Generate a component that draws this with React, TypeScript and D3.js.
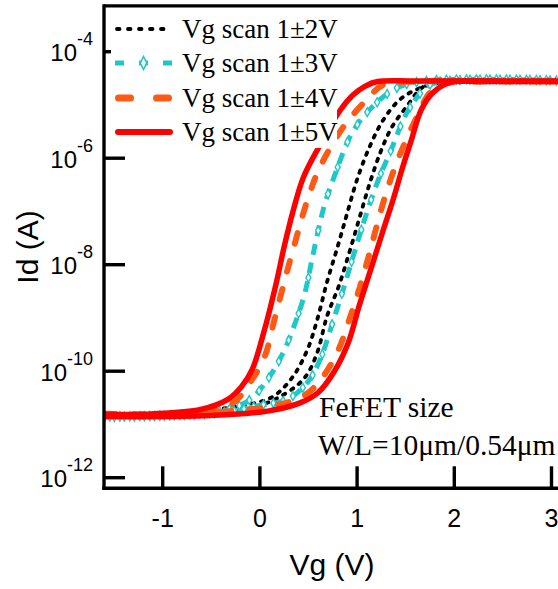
import React, { useEffect, useRef } from "react";
import * as d3 from "d3";

const W = 558;
const H = 589;

const xTicks = [-1, 0, 1, 2, 3];
const yTickExps = [-12, -10, -8, -6, -4];
const legendLabels = ["Vg scan 1±2V", "Vg scan 1±3V", "Vg scan 1±4V", "Vg scan 1±5V"];
const noteLines = ["FeFET size", "W/L=10μm/0.54μm"];

type Pt = [number, number]; // [Vg (V), Id (A)]

// Vg scan 1±2V
const scan2Fwd: Pt[] = [
  [-1.0, 1.45e-11], [-0.1, 2.0e-11], [0.28, 3.98e-11], [0.47, 7.94e-11], [0.59, 2.24e-10],
  [0.69, 1.07e-9], [0.81, 3.89e-9], [0.92, 1.7e-8], [1.02, 7.08e-8], [1.12, 2.95e-7],
  [1.24, 1.29e-6], [1.36, 3.89e-6], [1.51, 9.33e-6], [1.68, 2.19e-5], [1.9, 2.69e-5],
  [2.3, 2.75e-5], [3.0, 2.75e-5],
];
const scan2Rev: Pt[] = [
  [3.0, 2.75e-5], [1.9, 2.69e-5], [1.65, 2.09e-5], [1.44, 1.26e-5], [1.27, 5.25e-6],
  [1.13, 1.66e-6], [1.0, 3.98e-7], [0.9, 9.55e-8], [0.8, 2.19e-8], [0.69, 4.68e-9],
  [0.59, 9.33e-10], [0.49, 2.57e-10], [0.34, 7.94e-11], [0.14, 3.39e-11], [-0.1, 2.4e-11],
  [-1.0, 1.51e-11],
];

// Vg scan 1±3V
const scan3Fwd: Pt[] = [
  [-1.6, 1.38e-11], [-0.4, 1.66e-11], [0.0, 2.29e-11], [0.28, 2.95e-11], [0.49, 6.17e-11],
  [0.62, 1.66e-10], [0.75, 8.32e-10], [0.88, 4.68e-9], [0.99, 2.19e-8], [1.1, 9.55e-8],
  [1.22, 3.98e-7], [1.34, 1.29e-6], [1.53, 8.13e-6], [1.75, 2.4e-5], [2.0, 2.88e-5],
  [3.05, 2.88e-5],
];
const scan3Rev: Pt[] = [
  [3.05, 2.88e-5], [1.7, 2.82e-5], [1.41, 2.09e-5], [1.16, 9.33e-6], [0.95, 3.02e-6],
  [0.78, 5.37e-7], [0.66, 1.23e-7], [0.55, 1.66e-8], [0.46, 2.82e-9], [0.35, 6.92e-10],
  [0.24, 2.24e-10], [0.1, 7.94e-11], [-0.1, 2.95e-11], [-0.4, 1.78e-11], [-1.6, 1.41e-11],
];

// Vg scan 1±4V
const scan4Fwd: Pt[] = [
  [-1.6, 1.58e-11], [-0.6, 1.62e-11], [0.21, 2.4e-11], [0.47, 3.63e-11], [0.65, 7.94e-11],
  [0.81, 2.57e-10], [0.92, 9.33e-10], [1.03, 3.89e-9], [1.13, 1.7e-8], [1.22, 7.08e-8],
  [1.32, 2.95e-7], [1.45, 1.29e-6], [1.6, 5.25e-6], [1.75, 1.7e-5], [1.92, 2.63e-5],
  [2.3, 2.75e-5], [3.05, 2.75e-5],
];
const scan4Rev: Pt[] = [
  [3.05, 2.75e-5], [1.6, 2.75e-5], [1.27, 2.4e-5], [1.1, 1.26e-5], [0.86, 3.89e-6],
  [0.62, 6.92e-7], [0.49, 1.66e-7], [0.35, 2.19e-8], [0.25, 4.68e-9], [0.15, 9.33e-10],
  [0.05, 1.91e-10], [-0.1, 6.17e-11], [-0.27, 2.57e-11], [-0.51, 1.78e-11], [-1.1, 1.51e-11],
  [-1.6, 1.51e-11],
];

// Vg scan 1±5V
const scan5Fwd: Pt[] = [
  [-1.6, 1.41e-11], [-0.6, 1.45e-11], [0.08, 1.78e-11], [0.42, 2.57e-11], [0.6, 3.98e-11],
  [0.76, 9.55e-11], [0.91, 3.47e-10], [1.02, 1.66e-9], [1.13, 7.08e-9], [1.26, 3.98e-8],
  [1.37, 1.66e-7], [1.47, 6.92e-7], [1.56, 2.24e-6], [1.66, 8.13e-6], [1.78, 1.7e-5],
  [1.95, 2.63e-5], [2.3, 2.75e-5], [3.05, 2.75e-5],
];
const scan5Rev: Pt[] = [
  [3.05, 2.82e-5], [1.6, 2.82e-5], [1.21, 2.75e-5], [1.08, 2.24e-5], [0.96, 1.55e-5],
  [0.83, 8.13e-6], [0.61, 1.66e-6], [0.45, 4.47e-7], [0.34, 1.0e-7], [0.245, 2.0e-8],
  [0.17, 4.68e-9], [0.04, 5.37e-10], [-0.08, 1.07e-10], [-0.19, 5.13e-11], [-0.33, 2.95e-11],
  [-0.61, 1.91e-11], [-1.12, 1.58e-11], [-1.6, 1.55e-11],
];

const BLACK = "#000000";
const CYAN = "#1fc8c8";
const ORANGE = "#ff5a14";
const RED = "#ff0000";

const series = [
  { key: "s2", branches: [scan2Fwd, scan2Rev], color: BLACK, width: 3.8, dash: "2.5,7", cap: "round" },
  { key: "s3", branches: [scan3Fwd, scan3Rev], color: CYAN, width: 5, dash: "11,8", cap: "butt" },
  { key: "s4", branches: [scan4Fwd, scan4Rev], color: ORANGE, width: 6, dash: "11,18", cap: "round" },
  { key: "s5", branches: [scan5Fwd, scan5Rev], color: RED, width: 5.5, dash: "", cap: "round" },
];

const SANS = "'Liberation Sans', Arial, Helvetica, sans-serif";
const SERIF = "'Liberation Serif', 'Times New Roman', serif";

// marker spacing in gate voltage (data step of the measurement)
const MARKER_STEP_V = 0.1;

function diamond(cx: number, cy: number, hw: number, hh: number) {
  return `M${cx},${cy - hh}L${cx + hw},${cy}L${cx},${cy + hh}L${cx - hw},${cy}Z`;
}

export default function App() {
  const svgRef = useRef<SVGSVGElement>(null);

  const left = 104;
  const right = 558;
  const top = 5.8;
  const bottom = 488.3;

  const x = d3.scaleLinear().domain([-1, 3]).range([162.7, 551.5]);
  const y = d3.scaleLog().domain([1e-12, 1e-4]).range([477.7, 51.7]);

  const line = d3
    .line<Pt>()
    .x((d) => x(d[0]))
    .y((d) => y(d[1]))
    .curve(d3.curveCatmullRom.alpha(0.5));

  useEffect(() => {
    const svg = d3.select(svgRef.current);
    const g = svg.select<SVGGElement>("g.cyan-markers");
    g.selectAll("*").remove();
    const stepPx = Math.abs(x(MARKER_STEP_V) - x(0));
    svg.selectAll<SVGPathElement, unknown>("path.cyan-branch").each(function () {
      const p = this as SVGPathElement;
      const L = p.getTotalLength();
      let lastX: number | null = null;
      for (let s = 0; s <= L; s += 0.5) {
        const pt = p.getPointAtLength(s);
        if (lastX === null || Math.abs(pt.x - lastX) >= stepPx) {
          lastX = pt.x;
          g.append("path")
            .attr("d", diamond(pt.x, pt.y, 2.5, 4.5))
            .attr("fill", "#ffffff")
            .attr("stroke", CYAN)
            .attr("stroke-width", 1.4);
        }
      }
    });
    return () => {
      g.selectAll("*").remove();
    };
  }, []);

  const legendBase = [38, 72, 107, 141];

  return (
    <svg
      ref={svgRef}
      width={W}
      height={H}
      style={{ position: "absolute", left: 0, top: 0, display: "block", background: "#fff" }}
    >
      <defs>
        <clipPath id="plotClip">
          <rect x={left} y={top} width={right - left} height={bottom - top} />
        </clipPath>
      </defs>
      <rect x={0} y={0} width={W} height={H} fill="#fff" />

      <g clipPath="url(#plotClip)">
        {series.map((s) => (
          <g key={s.key}>
            {s.branches.map((b, i) => (
              <path
                key={i}
                className={s.key === "s3" ? "cyan-branch" : undefined}
                d={line(b) || ""}
                fill="none"
                stroke={s.color}
                strokeWidth={s.width}
                strokeDasharray={s.dash || undefined}
                strokeLinecap={s.cap as any}
                strokeLinejoin="round"
              />
            ))}
            {s.key === "s3" && <g className="cyan-markers" />}
          </g>
        ))}
      </g>

      {/* axes frame */}
      <line x1={left} x2={right} y1={top} y2={top} stroke="#000" strokeWidth={3.2} />
      <line x1={left} x2={left} y1={top - 1.6} y2={bottom + 1.6} stroke="#000" strokeWidth={3.4} />
      <line x1={left - 1.7} x2={right} y1={bottom} y2={bottom} stroke="#000" strokeWidth={3.4} />

      {/* y ticks */}
      {yTickExps.map((e) => {
        const yy = y(Math.pow(10, e));
        return (
          <g key={e}>
            <line x1={left} x2={left + 21} y1={yy} y2={yy} stroke="#000" strokeWidth={3.4} />
            <text x={93} y={yy + 9.5} textAnchor="end" fontFamily={SANS} fontSize={24} fill="#000">
              <tspan>10</tspan>
              <tspan dy={-16} fontSize={18}>{String(e)}</tspan>
            </text>
          </g>
        );
      })}

      {/* x ticks */}
      {xTicks.map((t) => (
        <g key={t}>
          <line x1={x(t)} x2={x(t)} y1={bottom} y2={bottom - 22} stroke="#000" strokeWidth={3.4} />
          <text x={x(t)} y={527} textAnchor="middle" fontFamily={SANS} fontSize={25} fill="#000">
            {String(t)}
          </text>
        </g>
      ))}

      {/* axis titles */}
      <text x={332} y={575} textAnchor="middle" fontFamily={SANS} fontSize={30} fill="#000">
        Vg (V)
      </text>
      <text
        transform="translate(38,247) rotate(-90)"
        textAnchor="middle"
        fontFamily={SANS}
        fontSize={30}
        fill="#000"
      >
        Id (A)
      </text>

      {/* legend */}
      <rect x={111} y={10} width={226} height={138} fill="#fff" />
      {legendLabels.map((lab, i) => {
        const by = legendBase[i];
        const sy = by - 9;
        return (
          <g key={lab}>
            {i === 0 && (
              <line x1={117} x2={172} y1={sy} y2={sy} stroke={BLACK} strokeWidth={3.8}
                strokeDasharray="2.5,8.5" strokeLinecap="round" />
            )}
            {i === 1 && (
              <g>
                <line x1={115} x2={172} y1={sy} y2={sy} stroke={CYAN} strokeWidth={5}
                  strokeDasharray="9,39,9" />
                <line x1={139} x2={148} y1={sy} y2={sy} stroke={CYAN} strokeWidth={5} />
                <path d={diamond(143.5, sy, 3.2, 6.5)} fill="#fff" stroke={CYAN} strokeWidth={1.6} />
              </g>
            )}
            {i === 2 && (
              <line x1={118.5} x2={168.5} y1={sy} y2={sy} stroke={ORANGE} strokeWidth={7}
                strokeDasharray="12,26" strokeLinecap="round" />
            )}
            {i === 3 && (
              <line x1={118} x2={170} y1={sy} y2={sy} stroke={RED} strokeWidth={6}
                strokeLinecap="round" />
            )}
            <text x={182} y={by} fontFamily={SERIF} fontSize={27} fill="#000">
              {lab}
            </text>
          </g>
        );
      })}

      {/* annotation */}
      <text x={319} y={417} fontFamily={SERIF} fontSize={29.5} fill="#000">
        {noteLines[0]}
      </text>
      <text x={318} y={455} fontFamily={SERIF} fontSize={29.5} fill="#000">
        {noteLines[1]}
      </text>
    </svg>
  );
}
